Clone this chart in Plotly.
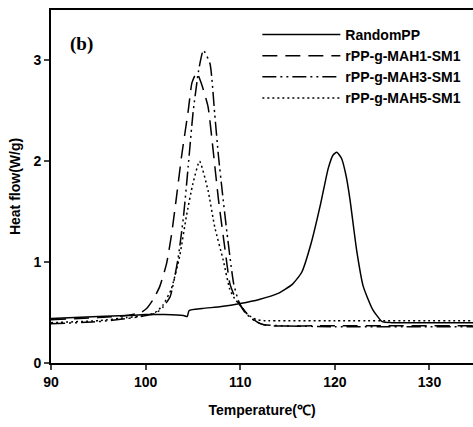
import plotly.graph_objects as go

# RandomPP (solid)
x_rpp = [90, 95, 98, 100, 102, 104.0, 104.4, 104.6, 106, 108, 110, 112, 114, 115.5, 116.5,
         117.5, 118.5, 119.3, 119.8, 120.2, 120.7, 121.2, 121.6, 122.3, 123.0, 124.0, 125.0, 126, 130, 135]
y_rpp = [0.44, 0.46, 0.47, 0.48, 0.48, 0.47, 0.46, 0.52, 0.54, 0.56, 0.59, 0.63, 0.69, 0.78, 0.90,
         1.19, 1.58, 1.93, 2.06, 2.09, 2.03, 1.85, 1.62, 1.12, 0.76, 0.53, 0.41, 0.40, 0.40, 0.40]

# rPP-g-MAH1-SM1 (long dash)
x_m1 = [90, 95, 98, 99.5, 100.1, 100.8, 101.5, 102.2, 102.7, 103.2, 103.8, 104.5, 104.9, 105.4,
        105.9, 106.6, 107.1, 107.7, 108.4, 108.9, 109.5, 110.1, 111.0, 112.1, 113, 120, 135]
y_m1 = [0.43, 0.45, 0.47, 0.50, 0.54, 0.63, 0.76, 0.98, 1.25, 1.60, 2.05, 2.50, 2.78, 2.88,
        2.77, 2.54, 2.14, 1.62, 1.12, 0.79, 0.64, 0.56, 0.46, 0.39, 0.37, 0.37, 0.37]

# rPP-g-MAH3-SM1 (dash-dot)
x_m3 = [90, 95, 98, 100, 101, 101.8, 102.6, 103.4, 104.0, 104.5, 105.0, 105.6, 106.1, 106.8,
        107.3, 107.7, 108.1, 108.6, 109.3, 109.8, 110.5, 111.5, 112.5, 120, 135]
y_m3 = [0.39, 0.41, 0.44, 0.47, 0.49, 0.55, 0.66, 1.02, 1.45, 1.95, 2.47, 2.90, 3.10, 2.97,
        2.47, 2.05, 1.70, 1.29, 0.79, 0.62, 0.50, 0.42, 0.38, 0.36, 0.36]

# rPP-g-MAH5-SM1 (dotted)
x_m5 = [90, 95, 98, 100, 101, 101.8, 102.7, 103.6, 104.3, 105.0, 105.7, 106.6, 107.3, 108.2,
        108.9, 109.4, 110.0, 110.8, 111.7, 112.5, 120, 135]
y_m5 = [0.40, 0.42, 0.45, 0.47, 0.50, 0.57, 0.73, 1.06, 1.45, 1.78, 2.00, 1.71, 1.35, 1.02,
        0.73, 0.64, 0.57, 0.48, 0.43, 0.42, 0.42, 0.42]

names = ["RandomPP", "rPP-g-MAH1-SM1", "rPP-g-MAH3-SM1", "rPP-g-MAH5-SM1"]
x_ticks = [90, 100, 110, 120, 130]
y_ticks = [0, 1, 2, 3]

series = [(x_rpp, y_rpp, "solid"),
          (x_m1, y_m1, "15px,8px"),
          (x_m3, y_m3, "14px,4px,2px,4px,2px,4px"),
          (x_m5, y_m5, "2px,3px")]

fig = go.Figure()
for (xs, ys, dash), name in zip(series, names):
    fig.add_trace(go.Scatter(x=xs, y=ys, mode="lines", name=name,
                             line=dict(color="black", width=1.5, dash=dash,
                                       shape="spline", smoothing=0.5)))

font_bold = dict(family="Liberation Sans, Arial, sans-serif", size=14, color="black", weight="bold")

fig.update_layout(
    width=473, height=427,
    margin=dict(l=51, r=0, t=10, b=64),
    paper_bgcolor="white", plot_bgcolor="white",
    showlegend=True,
    legend=dict(x=0.489, y=0.975, xanchor="left", yanchor="top",
                font=font_bold, itemwidth=78, bgcolor="rgba(0,0,0,0)",
                tracegroupgap=0),
    xaxis=dict(range=[90, 134.6], tickvals=x_ticks, ticks="outside", ticklen=5, tickwidth=2,
               showline=True, linewidth=2, linecolor="black", mirror=True, showgrid=False,
               zeroline=False, tickfont=font_bold, automargin=False,
               title=dict(text="Temperature(℃)", font=font_bold, standoff=16)),
    yaxis=dict(range=[0, 3.5], tickvals=y_ticks, ticks="outside", ticklen=5, tickwidth=2,
               showline=True, linewidth=2, linecolor="black", showgrid=False,
               zeroline=False, tickfont=font_bold, automargin=False,
               title=dict(text="Heat flow(W/g)", font=font_bold, standoff=10)),
    annotations=[dict(text="<b>(b)</b>", x=0.04, y=0.905, xref="paper", yref="paper",
                      xanchor="left", yanchor="middle", showarrow=False,
                      font=dict(family="Liberation Serif, Times New Roman, serif", size=19,
                                color="black"))],
)

fig.write_html("out.html", config={"displayModeBar": False},
               post_script="document.body.style.margin='0px';")
